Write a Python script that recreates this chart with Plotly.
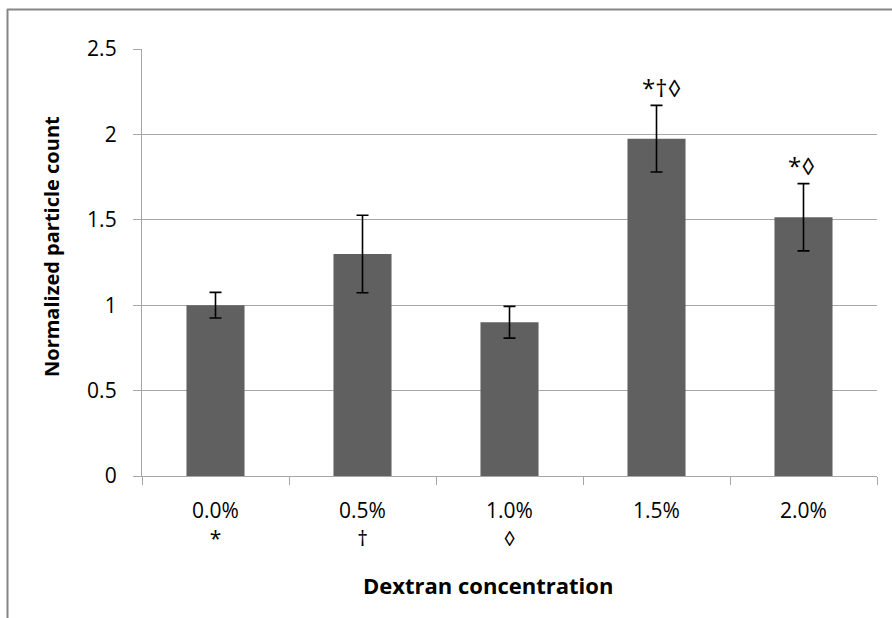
import plotly.graph_objects as go

# ---- data ----
categories = ["0.0%", "0.5%", "1.0%", "1.5%", "2.0%"]
marks_below = ["*", "†", "◊", "", ""]
marks_above = ["", "", "", "*†◊", "*◊"]
values = [1.00, 1.30, 0.90, 1.975, 1.515]
errors = [0.075, 0.227, 0.093, 0.195, 0.197]
y_ticks = [0, 0.5, 1, 1.5, 2, 2.5]
y_tick_labels = ["0", "0.5", "1", "1.5", "2", "2.5"]
x_title = "Dextran concentration"
y_title = "Normalized particle count"

tick_text = [c + ("<br>" + m if m else "") for c, m in zip(categories, marks_below)]

FONT = "Open Sans, DejaVu Sans, sans-serif"
GRID = "#a6a6a6"
W, H = 892, 618
ML, MR, MT, MB = 142, 15, 49, 142
PW, PH = W - ML - MR, H - MT - MB


def px(xp):
    return (xp - ML) / PW


def py(yp):
    return (H - MB - yp) / PH


fig = go.Figure()
fig.add_trace(go.Bar(
    x=categories, y=values,
    marker=dict(color="#606060", line=dict(width=0)),
    error_y=dict(type="data", array=errors, visible=True,
                 color="black", thickness=1.6, width=6),
    hoverinfo="skip",
))

annotations = []
for c, v, e, m in zip(categories, values, errors, marks_above):
    if m:
        annotations.append(dict(
            x=c, y=v + e, xref="x", yref="y", text=m, showarrow=False,
            yanchor="middle", yshift=18, xshift=5 if len(m) > 2 else -2,
            font=dict(family=FONT, size=24, color="black")))

annotations.append(dict(
    x=px(488), y=py(585), xref="paper", yref="paper", text="<b>" + x_title + "</b>",
    showarrow=False, xanchor="center", yanchor="middle",
    font=dict(family=FONT, size=22, color="black")))
annotations.append(dict(
    x=px(52), y=py(247), xref="paper", yref="paper", text="<b>" + y_title + "</b>",
    showarrow=False, xanchor="center", yanchor="middle", textangle=-90,
    font=dict(family=FONT, size=20, color="black")))

shapes = [
    dict(type="line", xref="paper", yref="paper", x0=px(7), x1=px(892),
         y0=py(9.5), y1=py(9.5), line=dict(color="#868686", width=2)),
    dict(type="line", xref="paper", yref="paper", x0=px(7.5), x1=px(7.5),
         y0=py(9), y1=py(618), line=dict(color="#868686", width=2)),
]

fig.update_layout(
    width=W, height=H,
    margin=dict(l=ML, r=MR, t=MT, b=MB, pad=0),
    paper_bgcolor="white", plot_bgcolor="white",
    showlegend=False,
    hovermode=False,
    bargap=0.605,
    annotations=annotations,
    shapes=shapes,
    font=dict(family=FONT, size=21, color="black"),
)
fig.update_xaxes(
    type="category", range=[-0.5, 4.5],
    tickmode="array", tickvals=categories, ticktext=tick_text,
    tickson="boundaries", ticks="outside", ticklen=8, tickwidth=1.3, tickcolor=GRID,
    showline=True, linecolor=GRID, linewidth=1.3, showgrid=False,
    ticklabelstandoff=16,
    tickfont=dict(family=FONT, size=21, color="black"),
)
fig.update_yaxes(
    range=[0, 2.5], tickmode="array", tickvals=y_ticks, ticktext=y_tick_labels,
    ticks="outside", ticklen=8, tickwidth=1.3, tickcolor=GRID,
    showline=True, linecolor=GRID, linewidth=1.3,
    showgrid=True, gridcolor=GRID, gridwidth=1.3, zeroline=False,
    ticklabelstandoff=12,
    tickfont=dict(family=FONT, size=21, color="black"),
)

fig.write_html("out.html", config={"displayModeBar": False},
               post_script="document.body.style.margin='0';")
